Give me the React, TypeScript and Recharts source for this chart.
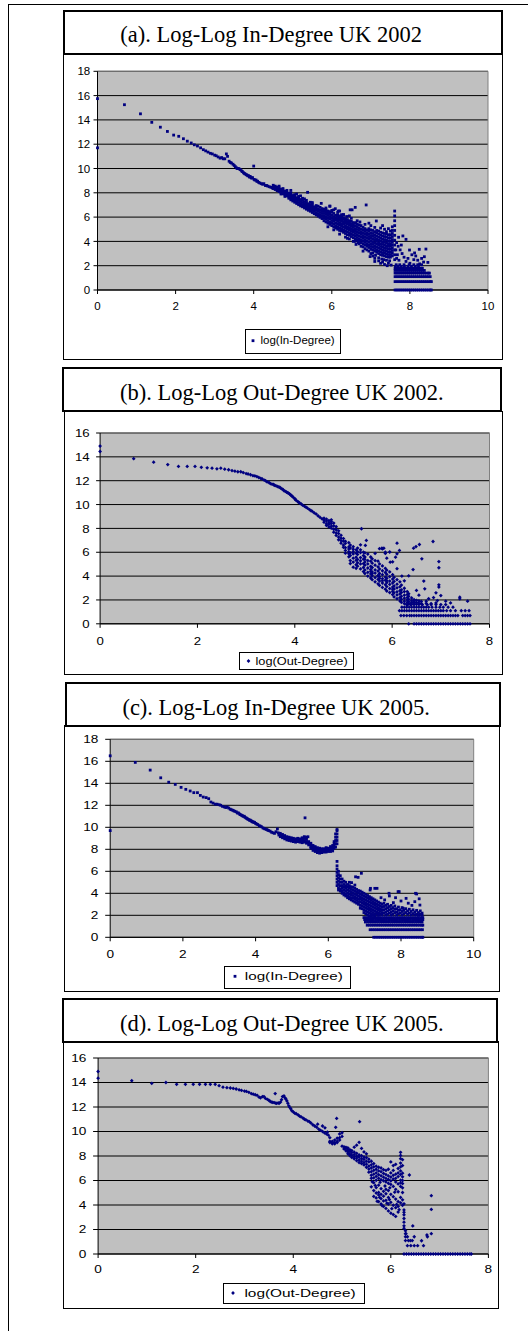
import React from "react";
import { ScatterChart, Scatter, XAxis, YAxis, CartesianGrid, ReferenceLine } from "recharts";

type Pair = [number, number];
type Col = [number, number[]];

// ---- (a) in-degree 2002 ----
const aHead: Pair[] = [
  [0, 15.75], [0, 11.7], [0.69, 15.25], [1.1, 14.5], [1.39, 13.8], [1.61, 13.4], [1.79, 13.05], [1.95, 12.75],
  [2.08, 12.65], [2.2, 12.45], [2.3, 12.25], [2.4, 12.1], [2.48, 11.95], [2.56, 11.85], [2.64, 11.7], [2.71, 11.55],
  [2.77, 11.45], [2.83, 11.35], [2.89, 11.25], [2.94, 11.2], [3.0, 11.1], [3.04, 11.05], [3.09, 10.95], [3.14, 10.85],
  [3.18, 10.9], [3.22, 10.8], [3.26, 10.8], [3.3, 11.2], [3.33, 11.0], [3.37, 10.6], [3.4, 10.5], [3.43, 10.45],
  [3.47, 10.35], [3.5, 10.25], [3.53, 10.15], [3.56, 10.05], [3.58, 10.0], [3.61, 10.0], [3.64, 9.95], [3.66, 9.9],
  [3.69, 9.8], [3.71, 9.75], [3.74, 9.65], [3.76, 9.6], [3.78, 9.55], [3.81, 9.5], [3.83, 9.45], [3.85, 9.4],
  [3.87, 9.4], [3.89, 9.3], [3.91, 9.35], [3.93, 9.25], [3.95, 9.2], [3.97, 9.25], [4.0, 10.2], [4.01, 9.1],
  [4.03, 9.05], [4.06, 9.05], [4.08, 8.95], [4.1, 8.95], [4.13, 8.85], [4.16, 8.8], [4.2, 8.75], [4.23, 8.7],
  [4.26, 8.75], [4.3, 8.6], [4.33, 8.6], [4.36, 8.55], [4.4, 8.5], [4.44, 8.45], [4.48, 8.4],
];
const aCols: Col[] = [
  [4.5, [8.5, 8.35, 8.62]], [4.55, [8.42, 8.27, 8.55]], [4.6, [8.33, 8.18, 8.47]], [4.65, [8.25, 8.1, 8.4, 8.55]],
  [4.7, [8.15, 8.0, 8.3, 7.9]], [4.75, [8.08, 7.92, 8.22, 8.35]], [4.8, [7.98, 7.82, 8.12, 7.7]], [4.85, [7.9, 7.75, 8.05, 8.2]],
  [4.9, [7.8, 7.65, 7.95, 7.55]], [4.95, [7.72, 7.56, 7.88, 7.42, 8.0]], [5.0, [7.62, 7.46, 7.78, 7.32]],
  [5.05, [7.55, 7.38, 7.7, 7.22, 7.85]], [5.1, [7.45, 7.28, 7.6, 7.12]], [5.15, [7.38, 7.2, 7.55, 7.02, 7.7]],
  [5.2, [7.28, 7.1, 7.45, 6.92]], [5.25, [7.2, 7.02, 7.38, 6.85, 7.55]], [5.3, [7.1, 6.92, 7.28, 6.75]],
  [5.35, [7.02, 6.84, 7.2, 6.65, 7.38]], [5.4, [6.92, 6.74, 7.1, 6.56]], [5.45, [6.85, 6.66, 7.03, 6.48, 7.22]],
  [5.5, [6.75, 6.56, 6.94, 6.38, 7.1]], [5.55, [6.66, 6.47, 6.85, 6.28]], [5.6, [6.57, 6.37, 6.77, 6.18, 6.95]],
  [5.65, [6.48, 6.28, 6.68, 6.08]], [5.7, [6.38, 6.18, 6.58, 5.98, 6.8]], [5.75, [6.3, 6.1, 6.5, 5.88, 6.7]],
  [5.8, [5.7, 5.9, 6.1, 6.3, 6.5, 6.65]], [5.85, [5.6, 5.82, 6.02, 6.22, 6.42, 6.6]], [5.9, [5.5, 5.72, 5.95, 6.15, 6.35, 6.5]],
  [5.95, [5.4, 5.6, 5.85, 6.05, 6.25, 6.45, 6.9]], [6.0, [5.3, 5.52, 5.72, 5.95, 6.15, 6.4]],
  [6.05, [5.2, 5.42, 5.65, 5.85, 6.05, 6.3, 6.6]], [6.1, [5.1, 5.3, 5.52, 5.75, 5.95, 6.15]],
  [6.15, [5.0, 5.22, 5.45, 5.65, 5.85, 6.05, 6.2]], [6.2, [4.9, 5.12, 5.35, 5.55, 5.75, 5.95, 6.1]],
  [6.25, [4.85, 5.05, 5.25, 5.45, 5.65, 5.85, 6.0]], [6.3, [4.75, 4.95, 5.17, 5.4, 5.6, 5.8, 5.95, 6.2]],
  [6.35, [4.65, 4.88, 5.1, 5.3, 5.5, 5.7, 5.85]], [6.4, [4.55, 4.78, 5.0, 5.2, 5.42, 5.62, 5.8]],
  [6.45, [4.5, 4.7, 4.92, 5.12, 5.32, 5.52, 5.7]], [6.5, [4.4, 4.6, 4.82, 5.05, 5.25, 5.45, 5.65]],
  [6.55, [4.3, 4.52, 4.75, 4.95, 5.15, 5.35, 5.55]], [6.6, [4.2, 4.42, 4.65, 4.85, 5.05, 5.28, 5.5, 4.0]],
  [6.65, [4.1, 4.32, 4.55, 4.75, 4.98, 5.2, 5.4]], [6.7, [4.0, 4.22, 4.45, 4.68, 4.9, 5.1, 5.35, 3.8]],
  [6.75, [3.9, 4.12, 4.35, 4.58, 4.8, 5.02, 5.3]], [6.8, [3.8, 4.02, 4.25, 4.48, 4.7, 4.92, 5.15, 3.55]],
  [6.85, [3.7, 3.92, 4.15, 4.38, 4.6, 4.82, 5.05]], [6.9, [3.6, 3.82, 4.05, 4.28, 4.5, 4.72, 4.95, 3.3]],
  [6.95, [3.5, 3.72, 3.95, 4.18, 4.4, 4.62, 4.85, 5.05]], [7.0, [3.35, 3.58, 3.8, 4.02, 4.25, 4.48, 4.7, 4.95, 3.0]],
  [7.05, [3.3, 3.52, 3.75, 3.98, 4.2, 4.42, 4.65, 4.9, 2.8]], [7.1, [3.2, 3.42, 3.65, 3.88, 4.1, 4.32, 4.55, 4.8, 2.6]],
  [7.15, [3.1, 3.32, 3.55, 3.78, 4.0, 4.22, 4.45, 4.7, 4.9]], [7.2, [3.0, 3.22, 3.45, 3.68, 3.9, 4.12, 4.35, 4.6, 4.85, 2.4]],
  [7.25, [2.9, 3.12, 3.35, 3.58, 3.8, 4.02, 4.25, 4.5, 4.75]], [7.3, [2.85, 3.08, 3.3, 3.52, 3.75, 3.98, 4.2, 4.45, 4.7, 2.3]],
  [7.35, [2.8, 3.02, 3.25, 3.48, 3.7, 3.92, 4.15, 4.4, 4.65, 2.1]], [7.4, [2.75, 2.98, 3.2, 3.42, 3.65, 3.88, 4.1, 4.35, 4.6, 4.8]],
  [7.45, [2.7, 2.92, 3.15, 3.38, 3.6, 3.82, 4.05, 4.3, 4.55, 2.2]], [7.5, [2.7, 2.92, 3.15, 3.38, 3.6, 3.82, 4.05, 4.3, 4.55, 4.85]],
  [7.55, [2.8, 3.02, 3.25, 3.48, 3.7, 3.92, 4.15, 4.4, 4.65, 4.9]],
  [7.61, [6.5, 6.1, 5.7, 5.3, 4.9, 4.5, 4.1, 3.7, 3.3, 2.9, 2.5]],
];
const aSpots: Pair[] = [
  [5.38, 8.04], [5.73, 7.13], [6.09, 6.69], [6.17, 6.5], [6.47, 6.6], [6.52, 6.6], [6.6, 6.8], [6.88, 7.0],
  [7.14, 5.68], [6.62, 5.54], [5.95, 6.9], [6.3, 6.2], [7.71, 4.34], [7.82, 4.45], [7.9, 4.17], [7.99, 3.29],
  [8.24, 3.35], [8.41, 3.37], [8.46, 2.27], [8.37, 2.74], [7.66, 3.9], [7.7, 3.6], [7.75, 3.3], [7.8, 3.0],
  [7.68, 2.9], [7.85, 2.7], [7.95, 2.6], [8.05, 2.9], [8.1, 2.5], [8.15, 2.8], [8.2, 2.45], [8.3, 2.6],
  [8.35, 2.3], [7.72, 2.45], [7.9, 2.35], [8.0, 2.2], [8.25, 2.15], [8.12, 3.05], [7.78, 3.7], [7.64, 3.3], [7.66, 2.6],
  [5.9, 5.2], [6.05, 4.95], [6.2, 4.6], [6.35, 4.35], [6.45, 4.2], [6.55, 4.0], [6.62, 3.75], [6.75, 3.6],
  [6.85, 3.4], [6.95, 3.2], [7.05, 3.05], [7.12, 2.85], [7.2, 2.65], [7.28, 2.55], [7.33, 2.5], [7.4, 2.45],
  [7.48, 2.4], [7.52, 2.05], [7.42, 2.0], [7.25, 2.2], [7.1, 2.35], [6.98, 2.75], [6.8, 3.2], [6.68, 3.9], [6.4, 4.25],
  [5.85, 6.75], [6.0, 6.55], [6.15, 6.4], [6.25, 6.2], [6.38, 6.05], [6.5, 5.9], [6.65, 5.7], [6.72, 5.6],
  [6.85, 5.4], [7.0, 5.3], [7.1, 5.15], [7.25, 5.1], [7.35, 5.0], [7.45, 5.05], [7.55, 5.2], [7.3, 5.3],
  [6.95, 5.5], [6.45, 6.1], [6.2, 6.5], [5.65, 6.9], [5.5, 7.2], [5.3, 7.5], [5.1, 7.9], [4.95, 8.2], [5.2, 7.75],
];
const aRows: Col[] = [
  [0, [7.62, 7.67, 7.72, 7.77, 7.82, 7.87, 7.92, 7.97, 8.02, 8.07, 8.12, 8.17, 8.22, 8.27, 8.32, 8.37, 8.42, 8.47, 8.52, 8.55]],
  [0.69, [7.62, 7.67, 7.72, 7.77, 7.82, 7.87, 7.92, 7.97, 8.02, 8.07, 8.12, 8.17, 8.22, 8.27, 8.32, 8.37, 8.42, 8.47, 8.52, 8.55]],
  [1.1, [7.62, 7.67, 7.72, 7.77, 7.82, 7.87, 7.92, 7.97, 8.02, 8.07, 8.12, 8.17, 8.22, 8.27, 8.32, 8.37, 8.42, 8.47, 8.52]],
  [1.39, [7.62, 7.67, 7.72, 7.77, 7.82, 7.87, 7.92, 7.97, 8.02, 8.07, 8.12, 8.17, 8.22, 8.27, 8.32, 8.37, 8.42, 8.47, 8.5]],
  [1.61, [7.62, 7.67, 7.72, 7.77, 7.82, 7.87, 7.92, 7.97, 8.02, 8.07, 8.12, 8.17, 8.22, 8.27, 8.32, 8.37]],
  [1.79, [7.62, 7.67, 7.72, 7.77, 7.82, 7.87, 7.92, 7.97, 8.02, 8.07, 8.12, 8.17, 8.22, 8.27, 8.32]],
  [1.95, [7.63, 7.7, 7.78, 7.86, 7.95, 8.04, 8.14, 8.22]],
  [2.08, [7.65, 7.74, 7.85, 7.98, 8.1, 8.2, 8.3]],
];

// ---- (b) out-degree 2002 ----
const bHead: Pair[] = [
  [0, 14.9], [0, 14.45], [0.69, 13.85], [1.1, 13.55], [1.39, 13.35], [1.61, 13.2], [1.79, 13.2], [1.95, 13.2],
  [2.08, 13.12], [2.2, 13.08], [2.3, 13.05], [2.4, 13.0], [2.48, 13.05], [2.56, 12.97], [2.64, 12.92], [2.71, 12.85],
  [2.77, 12.8], [2.83, 12.75], [2.89, 12.75], [2.94, 12.68], [3.0, 12.6], [3.04, 12.56], [3.09, 12.5], [3.14, 12.42],
  [3.18, 12.4], [3.22, 12.35], [3.26, 12.27], [3.3, 12.2], [3.33, 12.15], [3.37, 12.05], [3.4, 12.0], [3.43, 11.9],
  [3.47, 11.85], [3.5, 11.75], [3.53, 11.72], [3.56, 11.68], [3.58, 11.62], [3.61, 11.58], [3.64, 11.52], [3.66, 11.48],
  [3.69, 11.45], [3.71, 11.38], [3.74, 11.3], [3.76, 11.25], [3.78, 11.15], [3.81, 11.1], [3.83, 11.05], [3.85, 11.0],
  [3.87, 10.95], [3.89, 10.9], [3.91, 10.82], [3.93, 10.75], [3.95, 10.68], [3.97, 10.6], [4.0, 10.5], [4.01, 10.42],
  [4.03, 10.35], [4.06, 10.25], [4.08, 10.2], [4.1, 10.12], [4.13, 10.05], [4.16, 9.95], [4.2, 9.85], [4.23, 9.78],
  [4.26, 9.7], [4.3, 9.58], [4.33, 9.5], [4.36, 9.42], [4.4, 9.3], [4.44, 9.2], [4.48, 9.05], [4.52, 8.92], [4.56, 8.8],
];
const bCols: Col[] = [
  [4.6, [8.7, 8.52, 8.85]], [4.65, [8.62, 8.38, 8.78, 8.25]], [4.7, [8.48, 8.33, 8.66, 8.12]], [4.75, [8.41, 8.18, 8.57, 8.02, 8.72]],
  [4.8, [8.22, 7.93, 8.45, 7.68]], [4.85, [7.88, 7.62, 8.14, 7.41]], [4.9, [7.57, 7.27, 7.8, 7.05]], [4.95, [7.18, 6.97, 7.42, 6.76]],
  [5.0, [6.93, 6.6, 7.15, 6.42]], [5.04, [6.75, 6.38, 6.92, 6.15, 5.92]], [5.11, [6.45, 6.28, 6.8, 5.88, 5.62, 6.05]],
  [5.14, [6.35, 5.95, 6.6, 5.72, 5.3, 5.05]], [5.2, [6.05, 5.86, 6.47, 5.5, 5.18, 4.75, 6.25]], [5.26, [5.92, 5.58, 6.2, 5.32, 4.95, 4.65]],
  [5.29, [5.82, 5.4, 6.05, 5.12, 4.83, 6.35]], [5.35, [5.55, 5.28, 5.98, 5.02, 4.6, 6.62, 6.2]], [5.41, [5.42, 5.05, 5.72, 4.72, 4.38, 6.0]],
  [5.44, [5.18, 4.92, 5.6, 4.52, 4.22, 5.95, 5.4]], [5.5, [5.02, 4.68, 5.3, 4.32, 4.0, 5.85]], [5.56, [4.82, 4.55, 5.25, 4.18, 3.84, 5.6, 4.4]],
  [5.59, [4.72, 4.35, 5.08, 4.02, 3.7, 5.45, 4.2]], [5.65, [4.52, 4.25, 4.92, 3.88, 3.52, 5.3, 5.9]], [5.71, [4.42, 4.05, 4.78, 3.72, 3.35, 5.25, 4.0]],
  [5.74, [4.22, 3.95, 4.6, 3.58, 3.22, 5.02, 6.3, 3.8]], [5.8, [4.12, 3.78, 4.45, 3.42, 3.05, 4.85, 6.28, 3.6]],
  [5.86, [3.92, 3.65, 4.3, 3.28, 2.9, 4.65, 5.9]], [5.89, [3.82, 3.45, 4.15, 3.12, 2.75, 4.5, 5.5, 3.6]],
  [5.95, [3.58, 3.3, 3.95, 2.95, 2.62, 4.35, 6.02]], [6.01, [3.42, 3.08, 3.75, 2.72, 2.45, 4.12, 5.2, 2.9]],
  [6.04, [3.18, 2.92, 3.55, 2.6, 2.25, 3.9]], [6.1, [3.02, 2.68, 3.32, 2.42, 2.1, 3.7, 4.62]],
  [6.16, [2.78, 2.5, 3.1, 2.2, 1.92, 3.52]], [6.19, [2.62, 2.3, 2.85, 2.05, 1.8, 3.25]],
  [6.25, [2.4, 2.15, 2.7, 1.9, 1.7, 2.98]], [6.31, [2.2, 2.0, 2.45, 1.8, 1.58, 2.7]],
  [6.34, [2.05, 1.85, 2.3, 1.68, 2.52]], [6.4, [1.93, 1.78, 2.17, 1.63]], [6.45, [1.87, 1.72, 2.02]], [6.5, [1.78, 1.63, 1.97]],
  [6.55, [1.73, 1.92]], [6.6, [1.68, 1.87]], [6.7, [1.72, 1.9]], [6.8, [1.7]], [6.9, [1.75]],
];
const bSpots: Pair[] = [
  [5.37, 7.97], [5.47, 6.99], [5.45, 6.57], [5.83, 6.34], [5.79, 6.34], [6.1, 6.76], [6.15, 6.15], [6.44, 6.34],
  [6.49, 6.48], [6.56, 6.65], [6.84, 6.9], [6.61, 5.45], [6.96, 5.22], [6.96, 4.7], [6.43, 4.55], [6.34, 4.02],
  [6.65, 3.58], [6.67, 2.93], [6.96, 3.27], [6.96, 3.08], [7.0, 2.37], [6.93, 1.95], [7.39, 2.23], [7.39, 2.09],
  [6.1, 5.87], [6.07, 5.59], [5.96, 5.17], [5.86, 6.0], [6.2, 4.0], [6.25, 3.6], [6.55, 2.4], [6.5, 2.8],
  [6.85, 2.2], [7.1, 1.9], [7.2, 1.75], [7.55, 1.9], [6.9, 2.6], [6.75, 2.1],
];
const bRows: Col[] = [
  [0, [6.34, 6.45, 6.5, 6.55, 6.6, 6.65, 6.7, 6.75, 6.8, 6.85, 6.9, 6.95, 7.0, 7.05, 7.1, 7.15, 7.2, 7.25, 7.3, 7.35, 7.4, 7.45, 7.5, 7.55, 7.6]],
  [0.69, [6.18, 6.24, 6.3, 6.36, 6.4, 6.45, 6.5, 6.55, 6.6, 6.65, 6.7, 6.75, 6.8, 6.85, 6.9, 6.95, 7.0, 7.05, 7.1, 7.15, 7.2, 7.25, 7.3, 7.35, 7.45, 7.5, 7.55, 7.6]],
  [1.1, [6.15, 6.2, 6.25, 6.3, 6.35, 6.4, 6.45, 6.5, 6.55, 6.6, 6.65, 6.7, 6.75, 6.8, 6.85, 6.9, 6.95, 7.0, 7.05, 7.12, 7.2, 7.3, 7.42, 7.5, 7.58]],
  [1.39, [6.2, 6.25, 6.3, 6.35, 6.4, 6.45, 6.5, 6.55, 6.6, 6.65, 6.7, 6.75, 6.82, 6.9, 6.98, 7.05, 7.15, 7.25]],
  [1.61, [6.3, 6.38, 6.45, 6.55, 6.62, 6.72, 6.8, 6.9, 7.0, 7.1]],
];

// ---- (c) in-degree 2005 ----
const cHead: Pair[] = [
  [0, 16.5], [0, 9.7], [0.69, 15.9], [1.1, 15.2], [1.39, 14.5], [1.61, 14.1], [1.79, 13.9], [1.95, 13.63],
  [2.08, 13.45], [2.2, 13.3], [2.3, 13.15], [2.4, 13.15], [2.48, 12.9], [2.56, 12.75], [2.64, 12.7], [2.71, 12.6],
  [2.77, 12.3], [2.83, 12.2], [2.89, 12.1], [2.94, 12.1], [3.0, 12.05], [3.04, 12.0], [3.09, 11.9], [3.14, 11.85],
  [3.18, 11.8], [3.22, 11.85], [3.26, 11.75], [3.3, 11.65], [3.33, 11.6], [3.37, 11.55], [3.4, 11.5], [3.43, 11.45],
  [3.47, 11.4], [3.5, 11.3], [3.53, 11.3], [3.56, 11.2], [3.58, 11.15], [3.61, 11.1], [3.64, 11.05], [3.66, 11.0],
  [3.69, 11.0], [3.71, 10.9], [3.74, 10.85], [3.76, 10.8], [3.78, 10.75], [3.81, 10.7], [3.83, 10.65], [3.85, 10.65],
  [3.87, 10.6], [3.89, 10.55], [3.91, 10.5], [3.93, 10.5], [3.95, 10.45], [3.97, 10.45], [4.0, 10.35], [4.03, 10.3],
  [4.06, 10.25], [4.1, 10.15], [4.13, 10.1], [4.16, 10.05], [4.2, 9.95], [4.23, 9.9], [4.26, 9.85], [4.3, 9.8],
  [4.33, 9.75], [4.36, 9.7], [4.4, 9.65], [4.44, 9.55], [4.48, 9.5], [4.52, 9.45], [4.56, 9.6], [4.6, 9.85],
  [4.62, 9.5], [4.64, 9.3], [5.36, 10.86], [5.44, 9.14],
];
const cCols: Col[] = [
  [4.68, [9.3, 9.15, 9.45]], [4.74, [9.2, 9.05, 9.35]], [4.8, [9.1, 8.95, 9.25]], [4.86, [9.0, 8.85, 9.15]],
  [4.92, [8.95, 8.8, 9.1]], [4.98, [8.9, 8.75, 9.05]], [5.04, [8.85, 8.7, 9.0]], [5.1, [8.8, 8.65, 8.95]],
  [5.16, [8.85, 8.7, 9.0]], [5.22, [8.8, 8.65, 8.95]], [5.28, [8.75, 8.6, 8.9, 9.05]], [5.34, [8.8, 8.65, 9.0, 9.15]],
  [5.4, [8.7, 8.55, 8.9, 9.1]], [5.46, [8.55, 8.4, 8.7]], [5.52, [8.4, 8.25, 8.55, 8.1]], [5.58, [8.2, 8.05, 8.35, 7.9]],
  [5.64, [8.1, 7.95, 8.25, 7.8]], [5.7, [8.0, 7.85, 8.15, 7.7]], [5.76, [7.95, 7.8, 8.1, 7.65]], [5.82, [7.9, 7.75, 8.05, 7.7]],
  [5.88, [7.9, 7.75, 8.05]], [5.94, [7.9, 7.75, 8.05, 8.15]], [6.0, [7.95, 7.8, 8.1]], [6.06, [7.95, 7.8, 8.1, 8.25]],
  [6.12, [8.0, 7.85, 8.2, 8.35]], [6.16, [8.1, 8.3, 8.5, 8.7]], [6.2, [8.2, 8.5, 8.8, 9.1, 9.4]],
  [6.24, [8.5, 8.8, 9.1, 9.4, 9.7, 9.8, 6.9, 6.5, 6.2, 5.9, 5.6, 5.3, 5.0, 4.7]],
  [6.28, [6.0, 5.7, 5.4, 5.1, 4.8, 4.5, 4.3]], [6.33, [5.6, 5.3, 5.0, 4.7, 4.4, 4.2]], [6.38, [5.3, 5.0, 4.7, 4.45, 4.2, 4.0]],
  [6.43, [5.1, 4.8, 4.55, 4.3, 4.05, 3.85]], [6.48, [5.0, 4.7, 4.45, 4.2, 3.95, 3.75]], [6.53, [4.8, 4.55, 4.3, 4.05, 3.8, 3.6]],
  [6.58, [4.7, 4.45, 4.2, 3.95, 3.7, 3.5, 5.0]], [6.63, [4.6, 4.35, 4.1, 3.85, 3.6, 3.4]], [6.68, [4.55, 4.3, 4.05, 3.8, 3.55, 3.3]],
  [6.73, [4.45, 4.2, 3.95, 3.7, 3.45, 3.2, 4.75]], [6.78, [4.35, 4.1, 3.85, 3.6, 3.35, 3.1]], [6.83, [4.25, 4.0, 3.75, 3.5, 3.25, 3.0]],
  [6.88, [4.2, 3.95, 3.7, 3.45, 3.2, 2.9, 2.65]], [6.93, [4.1, 3.85, 3.6, 3.35, 3.1, 2.85, 2.6]],
  [6.98, [4.0, 3.75, 3.5, 3.25, 3.0, 2.75, 2.5, 2.25]], [7.03, [3.9, 3.65, 3.4, 3.15, 2.9, 2.65, 2.4, 2.15]],
  [7.08, [3.8, 3.55, 3.3, 3.05, 2.8, 2.55, 2.3, 2.05]], [7.13, [3.7, 3.45, 3.2, 2.95, 2.7, 2.45, 2.2, 1.95]],
  [7.18, [3.6, 3.35, 3.1, 2.85, 2.6, 2.35, 2.1, 1.9]], [7.23, [3.5, 3.25, 3.0, 2.75, 2.5, 2.25, 2.0]],
  [7.28, [3.4, 3.15, 2.9, 2.65, 2.4, 2.15, 1.95]], [7.33, [3.3, 3.05, 2.8, 2.55, 2.3, 2.1]], [7.38, [3.2, 2.95, 2.7, 2.45, 2.2, 2.0]],
  [7.43, [3.1, 2.85, 2.6, 2.35, 2.1]], [7.48, [3.0, 2.75, 2.5, 2.25, 2.05]], [7.53, [3.1, 2.8, 2.5, 2.2]], [7.58, [2.9, 2.6, 2.3, 2.05]],
  [7.63, [3.0, 2.7, 2.4, 2.1]], [7.68, [2.8, 2.5, 2.2]], [7.73, [2.9, 2.6, 2.3, 2.05]], [7.78, [2.7, 2.4, 2.1]],
  [7.83, [2.85, 2.55, 2.25]], [7.88, [2.6, 2.3, 2.05]], [7.93, [2.75, 2.45, 2.15]], [7.98, [2.5, 2.2]], [8.03, [2.7, 2.35, 2.05]],
  [8.08, [2.45, 2.15]], [8.13, [2.6, 2.25]], [8.18, [2.4, 2.1]], [8.23, [2.55, 2.2]], [8.28, [2.35, 2.05]], [8.33, [2.5, 2.15]],
  [8.38, [2.3, 2.05]], [8.43, [2.45, 2.1]], [8.48, [2.25, 2.0]], [8.53, [2.4, 2.1]], [8.58, [2.2, 2.0]],
];
const cSpots: Pair[] = [
  [6.91, 5.82], [6.82, 5.45], [6.75, 5.5], [6.64, 4.97], [7.16, 4.45], [7.34, 4.45], [7.28, 4.45], [7.15, 4.3],
  [7.68, 3.76], [7.67, 4.0], [7.95, 4.15], [7.92, 4.15], [8.14, 3.54], [8.43, 3.94], [8.4, 4.0], [8.38, 3.24],
  [8.52, 2.93], [8.06, 2.64], [7.79, 3.15], [7.55, 3.4], [7.85, 3.6], [8.2, 3.1], [8.3, 2.9], [7.45, 3.6], [8.0, 3.3], [8.5, 3.5],
];
const cRows: Col[] = [
  [0, [7.25, 7.31, 7.37, 7.43, 7.49, 7.55, 7.61, 7.67, 7.73, 7.79, 7.85, 7.91, 7.97, 8.03, 8.09, 8.15, 8.21, 8.27, 8.33, 8.39, 8.45, 8.51, 8.57, 8.6]],
  [0.69, [7.15, 7.21, 7.27, 7.33, 7.39, 7.45, 7.51, 7.57, 7.63, 7.69, 7.75, 7.81, 7.87, 7.93, 7.99, 8.05, 8.11, 8.17, 8.23, 8.29, 8.35, 8.41, 8.47, 8.53, 8.59]],
  [1.1, [7.07, 7.13, 7.19, 7.25, 7.31, 7.37, 7.43, 7.49, 7.55, 7.61, 7.67, 7.73, 7.79, 7.85, 7.91, 7.97, 8.03, 8.09, 8.15, 8.21, 8.27, 8.33, 8.39, 8.45, 8.51, 8.57, 8.6]],
  [1.39, [7.02, 7.08, 7.14, 7.2, 7.26, 7.32, 7.38, 7.44, 7.5, 7.56, 7.62, 7.68, 7.74, 7.8, 7.86, 7.92, 7.98, 8.04, 8.1, 8.16, 8.22, 8.28, 8.34, 8.4, 8.46, 8.52, 8.58]],
  [1.61, [7.0, 7.06, 7.12, 7.18, 7.24, 7.3, 7.36, 7.42, 7.48, 7.54, 7.6, 7.66, 7.72, 7.78, 7.84, 7.9, 7.96, 8.02, 8.08, 8.14, 8.2, 8.26, 8.32, 8.38, 8.44, 8.5, 8.56, 8.6]],
  [1.79, [6.98, 7.04, 7.1, 7.16, 7.22, 7.28, 7.34, 7.4, 7.46, 7.52, 7.58, 7.64, 7.7, 7.76, 7.82, 7.88, 7.94, 8.0, 8.06, 8.12, 8.18, 8.24, 8.3, 8.36, 8.42, 8.48, 8.54, 8.6]],
];

// ---- (d) out-degree 2005 ----
const dHead: Pair[] = [
  [0, 14.9], [0, 14.35], [0.69, 14.15], [1.1, 13.93], [1.39, 14.0], [1.61, 13.85], [1.79, 13.85], [1.95, 13.85],
  [2.08, 13.85], [2.2, 13.85], [2.3, 13.85], [2.4, 13.85], [2.48, 13.74], [2.56, 13.62], [2.64, 13.58], [2.71, 13.55],
  [2.77, 13.52], [2.83, 13.47], [2.89, 13.4], [2.94, 13.35], [3.0, 13.3], [3.04, 13.27], [3.09, 13.2], [3.14, 13.1],
  [3.18, 13.05], [3.22, 13.0], [3.26, 12.95], [3.3, 12.8], [3.33, 12.75], [3.37, 12.85], [3.4, 12.85], [3.43, 12.7],
  [3.47, 12.62], [3.5, 12.55], [3.53, 12.45], [3.56, 12.4], [3.58, 12.38], [3.61, 12.35], [3.63, 13.1], [3.64, 12.32],
  [3.66, 12.3], [3.69, 12.33], [3.71, 12.3], [3.74, 12.4], [3.76, 12.6], [3.78, 12.85], [3.81, 12.9], [3.83, 12.75],
  [3.85, 12.65], [3.87, 12.5], [3.89, 12.3], [3.91, 12.1], [3.93, 11.95], [3.95, 11.85], [3.97, 11.7], [4.0, 11.6],
  [4.03, 11.5], [4.06, 11.45], [4.1, 11.35], [4.13, 11.25], [4.16, 11.2], [4.2, 11.1], [4.23, 11.0], [4.26, 10.95],
  [4.3, 10.85], [4.33, 10.8], [4.36, 10.7], [4.4, 10.55], [4.44, 10.45], [4.48, 10.35], [4.52, 10.2], [4.56, 10.1],
  [4.6, 10.0], [4.64, 9.9], [4.68, 9.8], [4.72, 9.7], [4.5, 10.6], [4.6, 10.45], [4.65, 10.3], [4.7, 9.95],
];
const dCols: Col[] = [
  [4.75, [9.2, 9.1, 9.5]], [4.8, [9.1, 9.0, 9.2]], [4.85, [9.1, 9.3, 9.0]], [4.9, [9.2, 9.45, 9.1]], [4.95, [9.5, 9.8, 9.3]],
  [5.0, [9.9, 9.6, 8.8]], [5.04, [8.75, 8.58]], [5.08, [8.62, 8.43, 8.71]], [5.12, [8.48, 8.33, 8.66, 8.18]],
  [5.16, [8.37, 8.16, 8.52, 8.03]], [5.2, [8.28, 8.07, 8.44, 7.88]], [5.25, [8.12, 7.93, 8.31, 7.77, 8.72]],
  [5.3, [7.98, 7.83, 8.22, 8.88, 7.62]], [5.35, [7.92, 7.68, 8.08, 7.47, 9.12]], [5.4, [7.78, 7.58, 8.02, 7.38, 8.62]],
  [5.45, [7.72, 7.47, 7.91, 7.27, 8.33]], [5.5, [7.58, 7.33, 7.86, 7.08, 8.18]], [5.55, [7.52, 7.18, 7.74, 6.93, 6.68]],
  [5.6, [7.28, 7.02, 7.57, 6.72, 6.43, 5.48, 6.18]], [5.65, [7.12, 6.83, 7.38, 6.52, 6.22, 5.82, 5.18, 4.7]],
  [5.7, [6.92, 6.62, 7.17, 6.33, 6.02, 4.98, 4.58, 5.42]], [5.75, [6.78, 6.47, 7.08, 6.18, 5.62, 4.82, 4.28, 5.02]],
  [5.8, [6.72, 6.38, 7.02, 6.07, 5.33, 4.52, 4.08, 4.87]], [5.85, [6.58, 6.27, 6.88, 5.98, 5.12, 4.72, 3.88, 4.33]],
  [5.9, [6.48, 6.17, 6.82, 5.88, 4.92, 4.38, 3.72, 5.28]], [5.95, [6.37, 6.08, 6.92, 5.77, 5.18, 4.62, 3.52, 4.08]],
  [6.0, [6.28, 5.97, 7.52, 5.68, 4.87, 4.22, 3.33, 6.62]], [6.05, [6.42, 6.12, 7.22, 5.52, 4.68, 3.98, 3.22, 6.82]],
  [6.1, [6.52, 6.18, 7.32, 5.28, 4.48, 3.78, 3.07, 5.88]], [6.15, [6.62, 6.32, 6.98, 5.08, 4.28, 3.88, 3.42, 5.72]],
  [6.2, [6.78, 6.48, 7.12, 7.42, 7.78, 8.05, 8.3, 6.02, 5.52, 4.62, 4.18, 5.8]],
  [6.24, [7.7, 7.22, 6.6, 6.0, 5.75, 5.4, 5.02, 4.42, 3.98, 6.3]],
  [6.27, [4.1, 3.6, 3.2, 2.9, 2.6, 2.3, 2.1, 3.4]], [6.3, [1.9, 1.66, 1.41, 1.1]],
];
const dSpots: Pair[] = [
  [4.89, 11.07], [5.36, 10.8], [4.87, 10.34], [6.38, 6.45], [6.45, 2.29], [6.48, 1.41], [6.34, 1.41], [6.63, 1.08],
  [6.74, 1.55], [6.75, 1.41], [6.83, 1.66], [6.83, 4.76], [6.83, 3.64], [6.67, 0.68], [6.34, 0.68], [6.41, 0.68],
  [6.48, 0.68], [6.55, 0.68], [6.31, 1.66], [6.4, 1.1], [6.36, 1.1], [6.44, 1.1],
  [5.62, 5.9], [5.68, 5.6], [5.78, 5.85], [5.88, 5.55], [5.98, 5.4], [6.08, 5.05], [5.72, 4.3], [5.82, 3.95],
  [5.92, 4.15], [6.02, 3.7], [6.12, 4.05], [6.17, 3.62], [5.77, 4.62], [5.97, 4.45],
];
const dRows: Col[] = [
  [0, [6.27, 6.32, 6.37, 6.42, 6.47, 6.52, 6.57, 6.62, 6.67, 6.72, 6.77, 6.82, 6.87, 6.92, 6.97, 7.02, 7.07, 7.12, 7.17, 7.22, 7.27, 7.32, 7.37, 7.42, 7.47, 7.52, 7.57, 7.62, 7.65]],
];

const fromPairs = (p: Pair[]) => p.map(([x, y]) => ({ x, y }));
const fromCols = (c: Col[]) => c.flatMap(([x, ys]) => ys.map((y) => ({ x, y })));
const fromRows = (r: Col[]) => r.flatMap(([y, xs]) => xs.map((x) => ({ x, y })));

const NAVY = "#000080";
const SANS = "'Liberation Sans', Arial, sans-serif";
const SERIF = "'Liberation Serif', 'Times New Roman', serif";

const square = (p: any) => <rect x={p.cx - 1.4} y={p.cy - 1.4} width={2.8} height={2.8} fill={NAVY} />;
const diamond = (p: any) => (
  <polygon points={`${p.cx},${p.cy - 1.9} ${p.cx + 1.9},${p.cy} ${p.cx},${p.cy + 1.9} ${p.cx - 1.9},${p.cy}`} fill={NAVY} />
);

const tickFn = (side: "x" | "y", fs: number, sx: number) => (props: any) => (
  <text
    transform={`translate(${props.x},${props.y}) scale(${sx},1)`}
    textAnchor={side === "x" ? "middle" : "end"}
    dy={side === "x" ? "0.72em" : "0.36em"}
    fontSize={fs}
    fontFamily={SANS}
    fill="#000"
  >
    {props.payload.value}
  </text>
);

const panels = [
  {
    title: "(a). Log-Log In-Degree UK 2002", legend: "log(In-Degree)",
    data: [...fromPairs(aHead), ...fromCols(aCols), ...fromPairs(aSpots), ...fromRows(aRows)],
    xMax: 10, xTicks: [0, 2, 4, 6, 8, 10], yMax: 18, yTicks: [0, 2, 4, 6, 8, 10, 12, 14, 16, 18], shape: square,
    box: { l: 63, t: 53, w: 440, h: 306.5 }, head: { l: 63, t: 10, w: 440, h: 45, tx: 120.2, base: 32.3 },
    plot: { l: 97.5, r: 488, t: 71.3, b: 290 }, fs: 11.5, sx: 1, ySize: 4, yGap: 3.3, xGap: 7.7,
    leg: { l: 244.5, t: 329, w: 96, h: 25, mx: 8, my: 11.7, tx: 15.5, base: 15.3, fs: 11.5, sx: 1 },
  },
  {
    title: "(b). Log-Log Out-Degree UK 2002.", legend: "log(Out-Degree)",
    data: [...fromPairs(bHead), ...fromCols(bCols), ...fromPairs(bSpots), ...fromRows(bRows)],
    xMax: 8, xTicks: [0, 2, 4, 6, 8], yMax: 16, yTicks: [0, 2, 4, 6, 8, 10, 12, 14, 16], shape: diamond,
    box: { l: 63.5, t: 410.5, w: 439.5, h: 264 }, head: { l: 61.5, t: 367, w: 440.5, h: 45, tx: 119.5, base: 33 },
    plot: { l: 99.6, r: 489, t: 432.5, b: 623.3 }, fs: 11.5, sx: 1.15, ySize: 4, yGap: 6.4, xGap: 8.7,
    leg: { l: 238.5, t: 651.7, w: 115, h: 18.5, mx: 9.5, my: 9, tx: 16.5, base: 13.3, fs: 11, sx: 1.16 },
  },
  {
    title: "(c). Log-Log In-Degree UK 2005.", legend: "log(In-Degree)",
    data: [...fromPairs(cHead), ...fromCols(cCols), ...fromPairs(cSpots), ...fromRows(cRows)],
    xMax: 10, xTicks: [0, 2, 4, 6, 8, 10], yMax: 18, yTicks: [0, 2, 4, 6, 8, 10, 12, 14, 16, 18], shape: square,
    box: { l: 64, t: 725, w: 435.5, h: 267 }, head: { l: 64.5, t: 682, w: 436.5, h: 44.5, tx: 121.9, base: 33 },
    plot: { l: 110.2, r: 473.7, t: 739.3, b: 937.3 }, fs: 10.5, sx: 1.3, ySize: 5, yGap: 6.9, xGap: 8.7,
    leg: { l: 224, t: 966, w: 127, h: 22.5, mx: 11, my: 10.3, tx: 20.8, base: 14, fs: 10.5, sx: 1.45 },
  },
  {
    title: "(d). Log-Log Out-Degree UK 2005.", legend: "log(Out-Degree)",
    data: [...fromPairs(dHead), ...fromCols(dCols), ...fromPairs(dSpots), ...fromRows(dRows)],
    xMax: 8, xTicks: [0, 2, 4, 6, 8], yMax: 16, yTicks: [0, 2, 4, 6, 8, 10, 12, 14, 16], shape: diamond,
    box: { l: 62.5, t: 1041, w: 436.5, h: 268 }, head: { l: 61.5, t: 998, w: 436.5, h: 44.5, tx: 119.5, base: 32.7 },
    plot: { l: 97.6, r: 487.9, t: 1058, b: 1254 }, fs: 10.5, sx: 1.3, ySize: 5, yGap: 6.7, xGap: 7,
    leg: { l: 223, t: 1282.7, w: 142, h: 21.5, mx: 10, my: 10, tx: 21.4, base: 14, fs: 11, sx: 1.4 },
  },
];

function Panel({ p }: { p: (typeof panels)[number] }) {
  const { box, head, plot, leg } = p;
  const xAxisH = 30;
  return (
    <>
      <div style={{ position: "absolute", left: box.l, top: box.t, width: box.w, height: box.h, border: "1.5px solid #000", boxSizing: "border-box" }} />
      <div style={{ position: "absolute", left: box.l, top: box.t }}>
        <ScatterChart
          width={box.w}
          height={box.h}
          margin={{ top: plot.t - box.t, right: box.l + box.w - plot.r, left: 0, bottom: box.t + box.h - plot.b - xAxisH }}
        >
          <CartesianGrid vertical={false} stroke="#000" fill="#C0C0C0" fillOpacity={1} />
          <ReferenceLine y={p.yMax} stroke="#808080" />
          <ReferenceLine x={p.xMax} stroke="#808080" />
          <XAxis
            type="number" dataKey="x" domain={[0, p.xMax]} ticks={p.xTicks} height={xAxisH}
            axisLine={{ stroke: "#000" }} tickLine={{ stroke: "#000" }} tickSize={4} tickMargin={p.xGap}
            tick={tickFn("x", p.fs, p.sx)} interval={0}
          />
          <YAxis
            type="number" dataKey="y" domain={[0, p.yMax]} ticks={p.yTicks} width={plot.l - box.l}
            axisLine={{ stroke: "#000" }} tickLine={{ stroke: "#000" }} tickSize={p.ySize} tickMargin={p.yGap}
            tick={tickFn("y", p.fs, p.sx)} interval={0}
          />
          <Scatter data={p.data} fill={NAVY} shape={p.shape} isAnimationActive={false} />
        </ScatterChart>
      </div>
      <div style={{ position: "absolute", left: head.l, top: head.t, width: head.w, height: head.h, border: "2px solid #000", boxSizing: "border-box", background: "#fff" }}>
        <svg width={head.w} height={head.h} style={{ position: "absolute", left: -2, top: -2 }}>
          <text x={head.tx - head.l} y={head.base} fontFamily={SERIF} fontSize={22.5} fill="#000">{p.title}</text>
        </svg>
      </div>
      <div style={{ position: "absolute", left: leg.l, top: leg.t, width: leg.w, height: leg.h, border: "1px solid #000", boxSizing: "border-box", background: "#fff" }}>
        <svg width={leg.w} height={leg.h} style={{ position: "absolute", left: -1, top: -1 }}>
          {p.shape({ cx: leg.mx, cy: leg.my })}
          <text transform={`translate(${leg.tx},${leg.base}) scale(${leg.sx},1)`} fontFamily={SANS} fontSize={leg.fs} fill="#000">{p.legend}</text>
        </svg>
      </div>
    </>
  );
}

export default function App() {
  return (
    <div style={{ position: "absolute", left: 0, top: 0, width: 528, height: 1331, background: "#fff", overflow: "hidden" }}>
      <div style={{ position: "absolute", left: 7.5, top: 4, width: 1.5, height: 1327, background: "#000" }} />
      <div style={{ position: "absolute", left: 7.5, top: 3.5, width: 521, height: 1.5, background: "#000" }} />
      {panels.map((p) => (
        <Panel key={p.title} p={p} />
      ))}
    </div>
  );
}
